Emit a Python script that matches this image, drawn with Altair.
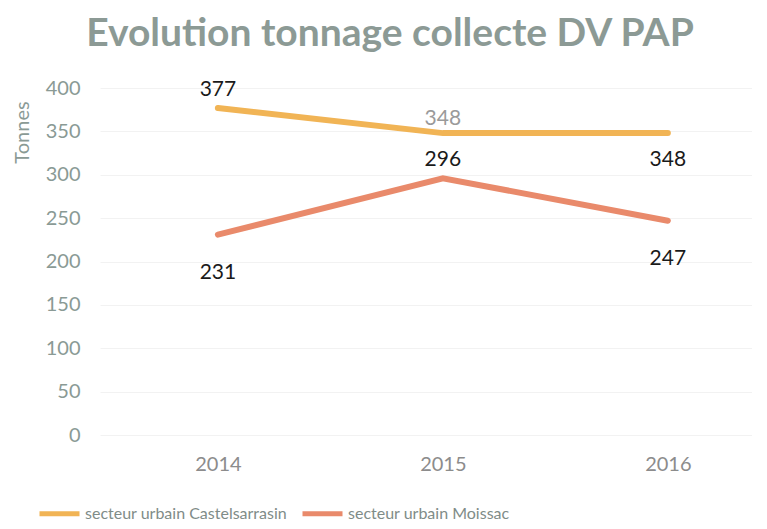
import altair as alt
import pandas as pd

years = [2014, 2015, 2016]
series_names = ["secteur urbain Castelsarrasin", "secteur urbain Moissac"]
castelsarrasin = [377, 348, 348]
moissac = [231, 296, 247]
y_ticks = [0, 50, 100, 150, 200, 250, 300, 350, 400]

rows = []
for yr, v in zip(years, castelsarrasin):
    rows.append({"year": yr, "value": v, "series": series_names[0]})
for yr, v in zip(years, moissac):
    rows.append({"year": yr, "value": v, "series": series_names[1]})
df = pd.DataFrame(rows)

FONT = "Lato"
colors = ["#F1B455", "#E98A6B"]

x = alt.X("year:Q",
          scale=alt.Scale(domain=[2013.476, 2016.374], nice=False, zero=False),
          axis=alt.Axis(values=years, format="d", title=None, grid=False, domain=False,
                        ticks=False, labelFontSize=20, labelColor="#8C8C8C",
                        labelFont=FONT, labelPadding=19))
y = alt.Y("value:Q",
          scale=alt.Scale(domain=[0, 400], nice=False),
          axis=alt.Axis(values=y_ticks, title="Tonnes", titleAngle=-90, titleX=-78, titleY=44,
                        titleAlign="center", titleBaseline="middle",
                        titleFontSize=20, titleFontWeight="normal", titleColor="#8A9A95",
                        titleFont=FONT,
                        domain=False, ticks=False, labelFontSize=20, labelColor="#8A9A95",
                        labelFont=FONT, labelPadding=20, gridColor="#F2F2F2", gridWidth=1))

color = alt.Color("series:N",
                  scale=alt.Scale(domain=series_names, range=colors),
                  legend=alt.Legend(title=None, orient="none", legendX=-63, legendY=403,
                                    direction="horizontal", symbolType="stroke",
                                    symbolStrokeWidth=5, symbolSize=1600,
                                    labelFontSize=16, labelColor="#7F8C88", labelFont=FONT,
                                    labelLimit=400, columnPadding=4, labelOffset=3))

lines = alt.Chart(df).mark_line(strokeWidth=6, strokeCap="round").encode(x=x, y=y, color=color)

c0, c1 = series_names
base = alt.Chart(df).transform_calculate(
    pos=("datum.series == '%s' ? (datum.year == 2016 ? 'b1' : (datum.year == 2015 ? 'a2' : 'a'))"
         " : (datum.year == 2015 ? 'a' : 'b2')") % c0,
    label_color="(datum.year == 2015 && datum.series == '%s') ? '#9A9A9A' : '#1A1A1A'" % c0,
)

def label_layer(pos, dy):
    return base.transform_filter("datum.pos == '%s'" % pos).mark_text(
        fontSize=21, font=FONT, dy=dy
    ).encode(x="year:Q", y="value:Q", text="value:Q",
             color=alt.Color("label_color:N", scale=None))

labels_above = label_layer("a", -18)
labels_a2 = label_layer("a2", -14)
labels_b1 = label_layer("b1", 27)
labels_b2 = label_layer("b2", 38)

chart = alt.layer(lines, labels_above, labels_a2, labels_b1, labels_b2).properties(
    width=652, height=347,
    autosize="none",
    padding={"left": 92, "top": 80, "right": 0, "bottom": 86},
    title=alt.TitleParams("Evolution tonnage collecte DV PAP", fontSize=39, font=FONT,
                          fontWeight="bold", color="#8C9A95", anchor="middle", dx=-36,
                          offset=24),
).configure_view(stroke=None)

chart.save("out.html", embed_options={"renderer": "svg", "actions": False})
